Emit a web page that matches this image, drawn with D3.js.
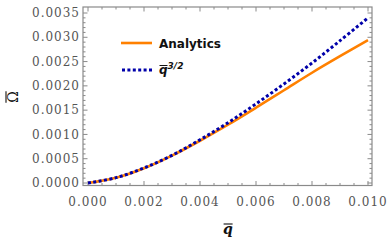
<!DOCTYPE html>
<html>
<head>
<meta charset="utf-8">
<script src="https://cdn.jsdelivr.net/npm/d3@7"></script>
<style>
  body { margin: 0; background: #fff; }
  svg { display: block; }
</style>
</head>
<body>
<svg id="chart" width="390" height="243"></svg>
<script>
// values
let qValues = [0, 0.001, 0.002, 0.003, 0.004, 0.005, 0.006, 0.007, 0.008, 0.009, 0.010];
let analytics = [0, 0.000108, 0.000305, 0.000565, 0.000870, 0.00120, 0.00155, 0.00191, 0.00227, 0.00261, 0.00294];
let powerLaw = [0, 0.000110, 0.000310, 0.000570, 0.000890, 0.00124, 0.00163, 0.00204, 0.00247, 0.00293, 0.00340];
let xTicks = [0, 0.002, 0.004, 0.006, 0.008, 0.010];
let yTicks = [0, 0.0005, 0.0010, 0.0015, 0.0020, 0.0025, 0.0030, 0.0035];

let x = d3.scaleLinear().domain([0, 0.01]).range([88, 368]);
let y = d3.scaleLinear().domain([0, 0.0035]).range([183, 13]);

var svg = d3.select("#chart");
let frameColor = "#8a8a8a";
let labelColor = "#555";

// frame, a bit wider than the data range
let fx0 = 83, fx1 = 372, fy0 = 7, fy1 = 185.5;
svg.append("rect")
   .attr("x", fx0).attr("y", fy0)
   .attr("width", fx1 - fx0).attr("height", fy1 - fy0)
   .attr("fill", "none")
   .attr("stroke", frameColor)
   .attr("stroke-width", 1.2);

// ticks on all four sides
let xMinor = d3.range(0, 0.01001, 0.0005);
let yMinor = d3.range(0, 0.003501, 0.0001);
let tickG = svg.append("g").attr("stroke", frameColor).attr("stroke-width", 1);
xMinor.forEach(function(v) {
  let major = xTicks.some(t => Math.abs(t - v) < 1e-9);
  let len = major ? 4.5 : 2.5;
  tickG.append("line").attr("x1", x(v)).attr("x2", x(v)).attr("y1", fy1).attr("y2", fy1 - len);
  tickG.append("line").attr("x1", x(v)).attr("x2", x(v)).attr("y1", fy0).attr("y2", fy0 + len);
});
yMinor.forEach(function(v) {
  let major = yTicks.some(t => Math.abs(t - v) < 1e-9);
  let len = major ? 4.5 : 2.5;
  tickG.append("line").attr("y1", y(v)).attr("y2", y(v)).attr("x1", fx0).attr("x2", fx0 + len);
  tickG.append("line").attr("y1", y(v)).attr("y2", y(v)).attr("x1", fx1).attr("x2", fx1 - len);
});

// tick labels
svg.append("g").selectAll("text")
   .data(xTicks).enter().append("text")
   .attr("x", d => x(d))
   .attr("y", 206)
   .attr("text-anchor", "middle")
   .attr("font-family", "DejaVu Serif")
   .attr("font-size", "12px")
   .attr("letter-spacing", "1px")
   .attr("fill", labelColor)
   .text(d => d3.format(".3f")(d));

svg.append("g").selectAll("text")
   .data(yTicks).enter().append("text")
   .attr("x", 80)
   .attr("y", d => y(d) + 4.2)
   .attr("text-anchor", "end")
   .attr("font-family", "DejaVu Serif")
   .attr("font-size", "12px")
   .attr("letter-spacing", "1px")
   .attr("fill", labelColor)
   .text(d => d3.format(".4f")(d));

// curves
let line = d3.line().x((d, i) => x(qValues[i])).y(d => y(d)).curve(d3.curveCatmullRom);

svg.append("path")
   .datum(analytics)
   .attr("d", line)
   .attr("fill", "none")
   .attr("stroke", "#ff8000")
   .attr("stroke-width", 2.6);

svg.append("path")
   .datum(powerLaw)
   .attr("d", line)
   .attr("fill", "none")
   .attr("stroke", "#0000aa")
   .attr("stroke-width", 3)
   .attr("stroke-dasharray", "3,2.4");

// overbar helper
function overbar(textSel, dy, shrink) {
  let b = textSel.node().getBBox();
  svg.append("line")
     .attr("x1", b.x + shrink).attr("x2", b.x + b.width - shrink)
     .attr("y1", b.y + dy).attr("y2", b.y + dy)
     .attr("stroke", "#111").attr("stroke-width", 1.1);
}

// axis labels
let xl = svg.append("text")
   .attr("x", 228).attr("y", 234)
   .attr("text-anchor", "middle")
   .attr("font-family", "DejaVu Serif")
   .attr("font-style", "italic")
   .attr("font-weight", "bold")
   .attr("font-size", "14px")
   .attr("fill", "#111")
   .text("q");
overbar(xl, 3, 0.5);

let yg = svg.append("g").attr("transform", "translate(18, 97) rotate(-90)");
let yl = yg.append("text")
   .attr("x", 0).attr("y", 0)
   .attr("text-anchor", "middle")
   .attr("font-family", "DejaVu Serif")
   .attr("font-size", "14px")
   .attr("fill", "#111")
   .text("Ω");
let yb = yl.node().getBBox();
yg.append("line")
  .attr("x1", yb.x).attr("x2", yb.x + yb.width)
  .attr("y1", yb.y + 1).attr("y2", yb.y + 1)
  .attr("stroke", "#111").attr("stroke-width", 1.1);

// legend
let legend = svg.append("g");
legend.append("line")
   .attr("x1", 121).attr("x2", 152).attr("y1", 43).attr("y2", 43)
   .attr("stroke", "#ff8000").attr("stroke-width", 2.6);
legend.append("text")
   .attr("x", 159).attr("y", 47.5)
   .attr("font-family", "DejaVu Sans")
   .attr("font-weight", "bold")
   .attr("font-size", "12px")
   .attr("fill", "#111")
   .text("Analytics");
legend.append("line")
   .attr("x1", 122).attr("x2", 152).attr("y1", 70).attr("y2", 70)
   .attr("stroke", "#0000aa").attr("stroke-width", 3)
   .attr("stroke-dasharray", "3,2.4");
let lq = legend.append("text")
   .attr("x", 159).attr("y", 74)
   .attr("font-family", "DejaVu Sans")
   .attr("font-weight", "bold")
   .attr("font-style", "italic")
   .attr("font-size", "12px")
   .attr("fill", "#111");
lq.append("tspan").attr("class", "base").text("q");
lq.append("tspan").attr("font-size", "9px").attr("dy", -5).text("3/2");
let qb = lq.select(".base").node().getBBox();
legend.append("line")
   .attr("x1", qb.x + 0.5).attr("x2", qb.x + qb.width - 0.5)
   .attr("y1", qb.y + 2.5).attr("y2", qb.y + 2.5)
   .attr("stroke", "#111").attr("stroke-width", 1);
</script>
</body>
</html>
